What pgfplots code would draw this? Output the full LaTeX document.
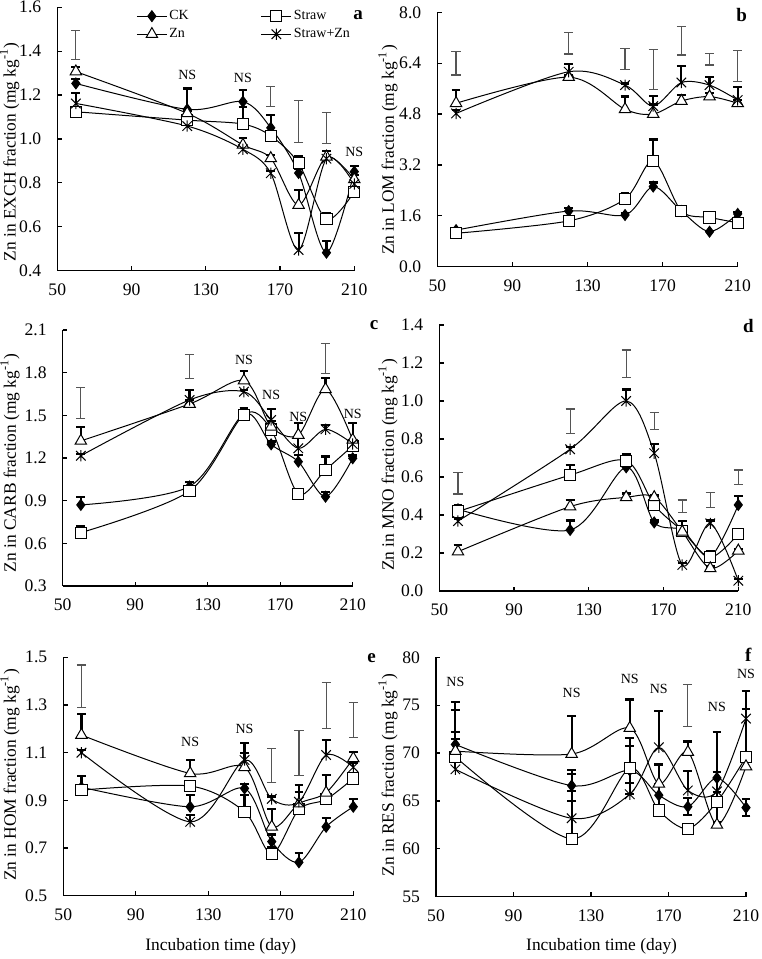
\documentclass[border=0pt]{standalone}
\usepackage{fontspec}
\setmainfont{Liberation Serif}
\usepackage{pgfplots}
\pgfplotsset{compat=1.18}

\pgfdeclareplotmark{xstar}{%
  \pgfpathmoveto{\pgfqpoint{0pt}{\pgfplotmarksize}}%
  \pgfpathlineto{\pgfqpoint{0pt}{-\pgfplotmarksize}}%
  \pgfpathmoveto{\pgfqpoint{-0.85\pgfplotmarksize}{0.85\pgfplotmarksize}}%
  \pgfpathlineto{\pgfqpoint{0.85\pgfplotmarksize}{-0.85\pgfplotmarksize}}%
  \pgfpathmoveto{\pgfqpoint{-0.85\pgfplotmarksize}{-0.85\pgfplotmarksize}}%
  \pgfpathlineto{\pgfqpoint{0.85\pgfplotmarksize}{0.85\pgfplotmarksize}}%
  \pgfusepathqstroke}

\newcommand\tickfont{\fontsize{8.8}{10}\selectfont}
\newcommand\nsfont{\fontsize{7}{8}\selectfont}
\definecolor{lsdgray}{RGB}{85,85,85}

\pgfplotsset{
  panel/.style={
    scale only axis, anchor=south west,
    axis lines=left, axis line style={-, black, line width=0.6pt},
    tick align=inside, major tick length=2.2pt,
    tick style={black, line width=0.6pt},
    xmin=50, xmax=210, xtick={50,90,130,170,210},
    clip=false,
    ticklabel style={font=\tickfont},
    /pgf/number format/assume math mode=true,
    yticklabel style={xshift=-4.5pt},
    xticklabel style={yshift=-2.8pt},
  },
  dec1/.style={yticklabel style={/pgf/number format/fixed, /pgf/number format/fixed zerofill, /pgf/number format/precision=1}},
  ck/.style={black, line width=0.5pt, smooth, mark=diamond*, mark size=2.7pt, mark options={fill=black, solid}},
  straw/.style={black, line width=0.5pt, smooth, mark=square*, mark size=2.8pt, mark options={fill=white, solid}},
  zn/.style={black, line width=0.5pt, smooth, mark=triangle*, mark size=3.3pt, mark options={fill=white, solid}},
  sz/.style={black, line width=0.5pt, smooth, mark=xstar, mark size=2.8pt, mark options={solid}},
  eb/.style={error bars/.cd, y dir=plus, y explicit,
    error bar style={line width=1.1pt, black},
    error mark options={rotate=90, mark size=2.2pt, line width=1.1pt, black}},
  ebb/.style={error bars/.cd, y dir=both, y explicit,
    error bar style={line width=1.1pt, black},
    error mark options={rotate=90, mark size=2.2pt, line width=1.1pt, black}},
  lsd/.style={draw=none, mark=none, error bars/.cd, y dir=both, y explicit,
    error bar style={line width=0.6pt, draw=lsdgray},
    error mark options={rotate=90, mark size=2.3pt, line width=0.6pt, draw=lsdgray}},
}

\begin{document}
\begin{tikzpicture}
\useasboundingbox (0,0) rectangle (380.5pt,479.5pt);

% ---------------- a ----------------
\begin{axis}[panel, dec1, at={(28.65pt,344.15pt)}, width=148.5pt, height=131.7pt,
  ymin=0.4, ymax=1.6, ytick={0.4,0.6,0.8,1.0,1.2,1.4,1.6},
  legend columns=2,
  legend style={at={(rel axis cs:0.265,1.0)}, anchor=north west, draw=none, fill=none,
    inner sep=0pt, font=\fontsize{7}{8}\selectfont,
    nodes={inner sep=1pt, text height=5pt, text depth=1.5pt}, row sep=0.5pt,
    /tikz/column 2/.style={column sep=35pt}},
  legend cell align=left,
  legend image code/.code={\draw[mark repeat=2,mark phase=2,#1] plot coordinates {(0pt,0pt) (7.5pt,0pt) (15pt,0pt)};}]
\addplot[ck,eb] coordinates {(60,1.253)+-(0,0.022) (120,1.135)+-(0,0.095) (150,1.170)+-(0,0.053) (165,1.051)+-(0,0.058) (180,0.845)+-(0,0.02) (195,0.482)+-(0,0.053) (210,0.851)+-(0,0.026)};
\addplot[straw,eb] coordinates {(60,1.124)+-(0,0.01) (120,1.086)+-(0,0.02) (150,1.068)+-(0,0.079) (165,1.014)+-(0,0.02) (180,0.889)+-(0,0.031) (195,0.634)+-(0,0.03) (210,0.76)+-(0,0.02)};
\addplot[zn,eb] coordinates {(60,1.307)+-(0,0.022) (120,1.117)+-(0,0.01) (150,0.973)+-(0,0.03) (165,0.912)+-(0,0.015) (180,0.699)+-(0,0.069) (195,0.919)+-(0,0.028) (210,0.816)+-(0,0.02)};
\addplot[sz,eb] coordinates {(60,1.162)+-(0,0.049) (120,1.059)+-(0,0.01) (150,0.953)+-(0,0.02) (165,0.844)+-(0,0.01) (180,0.494)+-(0,0.076) (195,0.910)+-(0,0.037) (210,0.795)+-(0,0.02)};
\addplot[lsd] coordinates {(60,1.428)+-(0,0.065) (165,1.1925)+-(0,0.0455) (180,1.079)+-(0,0.096) (195,1.05)+-(0,0.07)};
\legend{CK,Straw,Zn,Straw+Zn}
\node[font=\nsfont] at (axis cs:120,1.29) {NS};
\node[font=\nsfont] at (axis cs:150,1.277) {NS};
\node[font=\nsfont] at (axis cs:210,0.942) {NS};
\end{axis}

% ---------------- b ----------------
\begin{axis}[panel, dec1, at={(218.65pt,346.15pt)}, width=150.2pt, height=127.2pt,
  ymin=0, ymax=8, ytick={0,1.6,3.2,4.8,6.4,8.0}]
\addplot[ck,eb] coordinates {(60,1.15)+-(0,0.05) (120,1.75)+-(0,0.1) (150,1.625)+-(0,0.05) (165,2.52)+-(0,0.13) (180,1.75)+-(0,0.03) (195,1.10)+-(0,0.03) (210,1.66)+-(0,0.05)};
\addplot[straw,eb] coordinates {(60,1.05)+-(0,0.03) (120,1.44)+-(0,0.03) (150,2.13)+-(0,0.17) (165,3.33)+-(0,0.67) (180,1.75)+-(0,0.03) (195,1.55)+-(0,0.03) (210,1.38)+-(0,0.03)};
\addplot[zn,eb] coordinates {(60,5.14)+-(0,0.41) (120,5.96)+-(0,0.05) (150,4.95)+-(0,0.40) (165,4.80)+-(0,0.30) (180,5.21)+-(0,0.19) (195,5.35)+-(0,0.10) (210,5.14)+-(0,0.10)};
\addplot[sz,eb] coordinates {(60,4.82)+-(0,0.1) (120,6.13)+-(0,0.24) (150,5.71)+-(0,0.05) (165,5.05)+-(0,0.33) (180,5.79)+-(0,0.52) (195,5.71)+-(0,0.25) (210,5.24)+-(0,0.4)};
\addplot[lsd] coordinates {(60,6.395)+-(0,0.365) (120,7.025)+-(0,0.335) (150,6.53)+-(0,0.34) (165,6.19)+-(0,0.63) (180,7.105)+-(0,0.445) (195,6.525)+-(0,0.185) (210,6.305)+-(0,0.485)};
\end{axis}

% ---------------- c ----------------
\begin{axis}[panel, dec1, at={(31.35pt,186.5pt)}, width=145pt, height=128pt,
  ymin=0.3, ymax=2.1, ytick={0.3,0.6,0.9,1.2,1.5,1.8,2.1}]
\addplot[ck,eb] coordinates {(60,0.870)+-(0,0.053) (120,1.0)+-(0,0.03) (150,1.51)+-(0,0.04) (165,1.296)+-(0,0.02) (180,1.174)+-(0,0.047) (195,0.928)+-(0,0.035) (210,1.198)+-(0,0.02)};
\addplot[straw,eb] coordinates {(60,0.675)+-(0,0.045) (120,0.968)+-(0,0.02) (150,1.505)+-(0,0.045) (165,1.40)+-(0,0.03) (180,0.947)+-(0,0.015) (195,1.116)+-(0,0.094) (210,1.285)+-(0,0.02)};
\addplot[zn,eb] coordinates {(60,1.32)+-(0,0.10) (120,1.58)+-(0,0.03) (150,1.744)+-(0,0.068) (165,1.42)+-(0,0.04) (180,1.362)+-(0,0.082) (195,1.683)+-(0,0.077) (210,1.327)+-(0,0.117)};
\addplot[sz,eb] coordinates {(60,1.216)+-(0,0.01) (120,1.608)+-(0,0.07) (150,1.666)+-(0,0.01) (165,1.467)+-(0,0.076) (180,1.268)+-(0,0.08) (195,1.402)+-(0,0.028) (210,1.299)+-(0,0.03)};
\addplot[lsd] coordinates {(60,1.587)+-(0,0.108) (120,1.8445)+-(0,0.0845) (195,1.9015)+-(0,0.1055)};
\node[font=\nsfont] at (axis cs:150,1.89) {NS};
\node[font=\nsfont] at (axis cs:165,1.643) {NS};
\node[font=\nsfont] at (axis cs:180,1.49) {NS};
\node[font=\nsfont] at (axis cs:210,1.51) {NS};
\end{axis}

% ---------------- d ----------------
\begin{axis}[panel, dec1, at={(219.65pt,184pt)}, width=149.5pt, height=133pt,
  ymin=0, ymax=1.4, ytick={0,0.2,0.4,0.6,0.8,1.0,1.2,1.4}]
\addplot[ck,eb] coordinates {(60,0.43)+-(0,0.02) (120,0.321)+-(0,0.05) (150,0.651)+-(0,0.02) (165,0.361)+-(0,0.01) (180,0.32)+-(0,0.02) (195,0.18)+-(0,0.02) (210,0.453)+-(0,0.045)};
\addplot[straw,eb] coordinates {(60,0.418)+-(0,0.03) (120,0.61)+-(0,0.053) (150,0.686)+-(0,0.035) (165,0.453)+-(0,0.02) (180,0.316)+-(0,0.054) (195,0.177)+-(0,0.035) (210,0.30)+-(0,0.01)};
\addplot[zn,eb] coordinates {(60,0.207)+-(0,0.033) (120,0.444)+-(0,0.035) (150,0.493)+-(0,0.02) (165,0.493)+-(0,0.01) (180,0.312)+-(0,0.02) (195,0.119)+-(0,0.01) (210,0.212)+-(0,0.01)};
\addplot[sz,eb] coordinates {(60,0.368)+-(0,0.01) (120,0.746)+-(0,0.01) (150,1.0)+-(0,0.061) (165,0.725)+-(0,0.047) (180,0.137)+-(0,0.01) (195,0.356)+-(0,0.015) (210,0.054)+-(0,0.01)};
\addplot[lsd] coordinates {(60,0.5665)+-(0,0.0565) (120,0.894)+-(0,0.064) (150,1.1955)+-(0,0.0725) (165,0.895)+-(0,0.044) (180,0.4455)+-(0,0.0335) (195,0.4785)+-(0,0.0395) (210,0.599)+-(0,0.038)};
\end{axis}

% ---------------- e ----------------
\begin{axis}[panel, dec1, at={(31.65pt,31.65pt)}, width=145pt, height=119.2pt,
  ymin=0.5, ymax=1.5, ytick={0.5,0.7,0.9,1.1,1.3,1.5}]
\addplot[ck,eb] coordinates {(60,0.955)+-(0,0.047) (120,0.873)+-(0,0.049) (150,0.95)+-(0,0.02) (165,0.727)+-(0,0.03) (180,0.64)+-(0,0.038) (195,0.789)+-(0,0.038) (210,0.873)+-(0,0.031)};
\addplot[straw,eb] coordinates {(60,0.943)+-(0,0.02) (120,0.96)+-(0,0.01) (150,0.852)+-(0,0.07) (165,0.675)+-(0,0.03) (180,0.862)+-(0,0.02) (195,0.904)+-(0,0.02) (210,0.992)+-(0,0.01)};
\addplot[zn,eb] coordinates {(60,1.174)+-(0,0.087) (120,1.013)+-(0,0.056) (150,1.039)+-(0,0.06) (165,0.789)+-(0,0.073) (180,0.886)+-(0,0.05) (195,0.932)+-(0,0.074) (210,1.076)+-(0,0.028)};
\addplot[sz,eb] coordinates {(60,1.10)+-(0,0.01) (120,0.81)+-(0,0.03) (150,1.069)+-(0,0.07) (165,0.906)+-(0,0.01) (180,0.894)+-(0,0.07) (195,1.09)+-(0,0.063) (210,1.039)+-(0,0.02)};
\addplot[lsd] coordinates {(60,1.379)+-(0,0.089) (165,1.047)+-(0,0.071) (180,1.0975)+-(0,0.0945) (195,1.2975)+-(0,0.0955) (210,1.237)+-(0,0.073)};
\node[font=\nsfont] at (axis cs:120,1.146) {NS};
\node[font=\nsfont] at (axis cs:150,1.199) {NS};
\end{axis}

% ---------------- f ----------------
\begin{axis}[panel, at={(218pt,31.15pt)}, width=155pt, height=119.7pt,
  ymin=55, ymax=80, ytick={55,60,65,70,75,80}]
\addplot[ck,ebb] coordinates {(60,70.9)+-(0,1.3) (120,66.6)+-(0,1.6) (150,68.2)+-(0,2.5) (165,65.6)+-(0,1.2) (180,64.4)+-(0,0.9) (195,67.4)+-(0,4.8) (210,64.3)+-(0,0.9)};
\addplot[straw,eb] coordinates {(60,69.6)+-(0,5.7) (120,61.03)+-(0,5.0) (150,68.4)+-(0,3.2) (165,64.0)+-(0,0.5) (180,62.1)+-(0,0.3) (195,64.9)+-(0,1.0) (210,69.6)+-(0,5.0)};
\addplot[zn,eb] coordinates {(60,70.2)+-(0,4.3) (120,69.9)+-(0,4.0) (150,72.6)+-(0,3.0) (165,66.8)+-(0,2.0) (180,70.1)+-(0,1.1) (195,62.5)+-(0,0.3) (210,68.6)+-(0,0.5)};
\addplot[sz,eb] coordinates {(60,68.3)+-(0,3.2) (120,63.19)+-(0,4.6) (150,65.7)+-(0,1.2) (165,70.6)+-(0,3.8) (180,66.1)+-(0,2.0) (195,66.0)+-(0,2.0) (210,73.6)+-(0,2.9)};
\addplot[lsd] coordinates {(180,75.0)+-(0,2.2)};
\node[font=\nsfont] at (axis cs:60,77.45) {NS};
\node[font=\nsfont] at (axis cs:120,76.3) {NS};
\node[font=\nsfont] at (axis cs:150,77.7) {NS};
\node[font=\nsfont] at (axis cs:165,76.7) {NS};
\node[font=\nsfont] at (axis cs:195,74.8) {NS};
\node[font=\nsfont] at (axis cs:210,78.3) {NS};
\end{axis}

% ---------------- labels ----------------
\begin{scope}[every node/.style={font=\fontsize{8.7}{10}\selectfont}]
\node[rotate=90] at (4.8pt,403.5pt) {Zn in EXCH fraction (mg kg\textsuperscript{-1})};
\node[rotate=90] at (194pt,404.5pt) {Zn in LOM fraction (mg kg\textsuperscript{-1})};
\node[rotate=90] at (5pt,248pt) {Zn in CARB fraction (mg kg\textsuperscript{-1})};
\node[rotate=90] at (194pt,247pt) {Zn in MNO fraction (mg kg\textsuperscript{-1})};
\node[rotate=90] at (5pt,92pt) {Zn in HOM fraction (mg kg\textsuperscript{-1})};
\node[rotate=90] at (194pt,92pt) {Zn in RES fraction (mg kg\textsuperscript{-1})};
\node at (110.4pt,6.2pt) {Incubation time (day)};
\node at (300.8pt,6.2pt) {Incubation time (day)};
\end{scope}
\begin{scope}[every node/.style={font=\fontsize{9.5}{10}\selectfont\bfseries}]
\node at (179pt,472pt) {a};
\node at (370.8pt,472pt) {b};
\node at (187pt,317pt) {c};
\node at (374.2pt,316.5pt) {d};
\node at (185.8pt,150.5pt) {e};
\node at (374.2pt,152pt) {f};
\end{scope}
\end{tikzpicture}
\end{document}
